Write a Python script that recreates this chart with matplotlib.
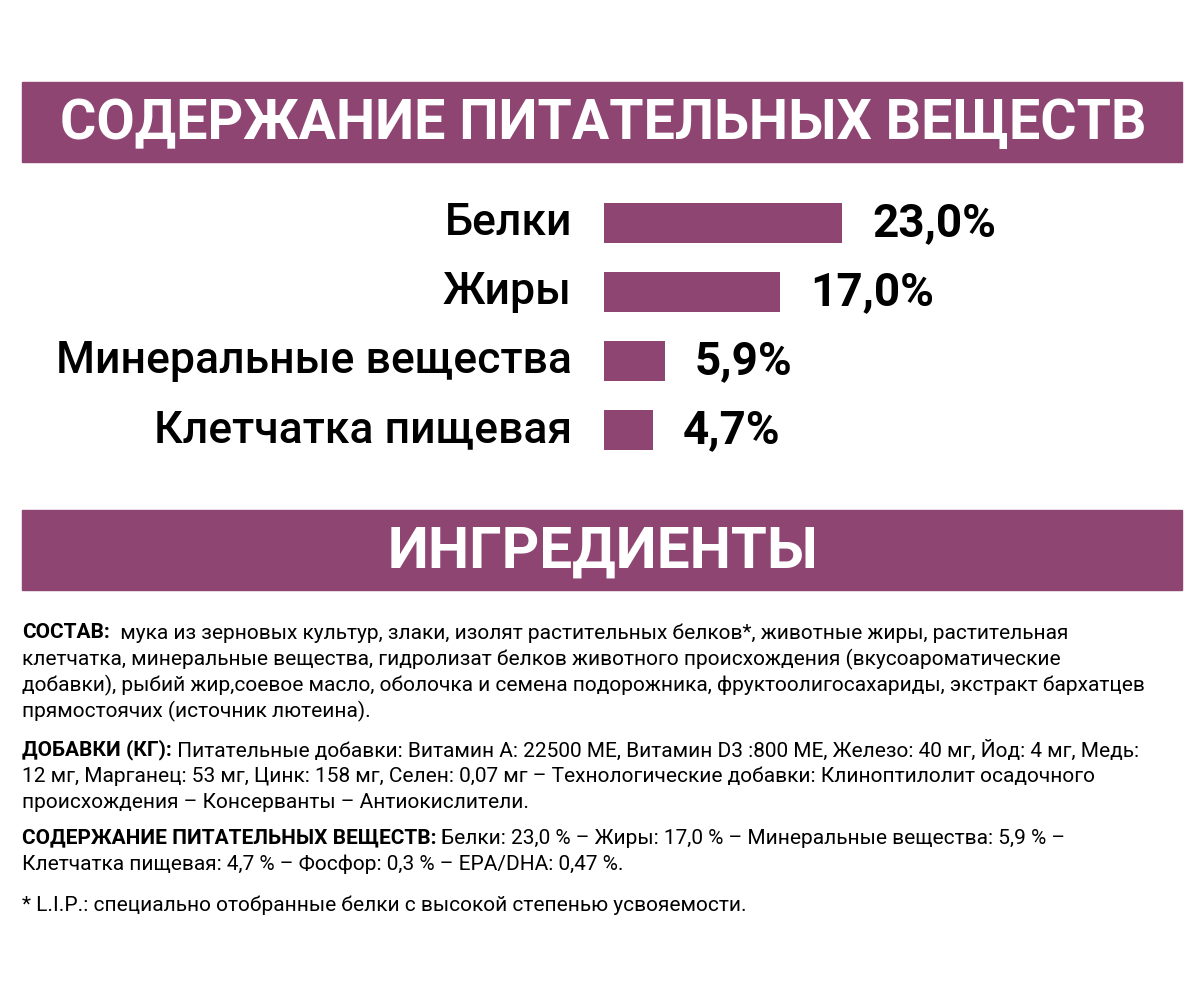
import matplotlib
matplotlib.use("Agg")
import matplotlib.pyplot as plt

categories = ["Белки", "Жиры", "Минеральные вещества", "Клетчатка пищевая"]
values = [23.0, 17.0, 5.9, 4.7]
value_labels = ["23,0%", "17,0%", "5,9%", "4,7%"]
title1 = "СОДЕРЖАНИЕ ПИТАТЕЛЬНЫХ ВЕЩЕСТВ"
title2 = "ИНГРЕДИЕНТЫ"
paragraphs = [
    ("СОСТАВ:", ["  мука из зерновых культур, злаки, изолят растительных белков*, животные жиры, растительная",
                 "клетчатка, минеральные вещества, гидролизат белков животного происхождения (вкусоароматические",
                 "добавки), рыбий жир,соевое масло, оболочка и семена подорожника, фруктоолигосахариды, экстракт бархатцев",
                 "прямостоячих (источник лютеина)."]),
    ("ДОБАВКИ (КГ):", [" Питательные добавки: Витамин А: 22500 МЕ, Витамин D3 :800 МЕ, Железо: 40 мг, Йод: 4 мг, Медь:",
                       "12 мг, Марганец: 53 мг, Цинк: 158 мг, Селен: 0,07 мг – Технологические добавки: Клиноптилолит осадочного",
                       "происхождения – Консерванты – Антиокислители."]),
    ("СОДЕРЖАНИЕ ПИТАТЕЛЬНЫХ ВЕЩЕСТВ:", [" Белки: 23,0 % – Жиры: 17,0 % – Минеральные вещества: 5,9 % –",
                                         "Клетчатка пищевая: 4,7 % – Фосфор: 0,3 % – EPA/DHA: 0,47 %."]),
    ("", ["* L.I.P.: специально отобранные белки с высокой степенью усвояемости."]),
]
para_y = [633, 750, 838, 905]

PURPLE = "#8e4572"
W, H = 1200, 1000
fig = plt.figure(figsize=(12, 10), dpi=100)
ax = fig.add_axes([0, 0, 1, 1])
ax.set_xlim(0, W); ax.set_ylim(H, 0); ax.axis("off")

FONT = ["Roboto", "DejaVu Sans"]
ax.add_patch(plt.Rectangle((22, 82), 1160, 80, color=PURPLE))
ax.add_patch(plt.Rectangle((22, 510), 1160, 80, color=PURPLE))
ax.text(603, 124, title1, color="white", fontsize=40, fontweight="bold",
        ha="center", va="center", family=FONT)
ax.text(603, 552, title2, color="white", fontsize=42, fontweight="bold",
        ha="center", va="center", family=FONT)

scale = 10.35
top, row = 188.5, 69
bx = fig.add_axes([604 / W, 1 - (top + 4 * row) / H, (W - 604) / W, 4 * row / H])
bx.set_xlim(0, (W - 604) / scale)
bx.set_ylim(3.5, -0.5)
bx.axis("off")
ypos = list(range(len(categories)))
bx.barh(ypos, values, height=0.59, color=PURPLE)
for y, v, lab, cat in zip(ypos, values, value_labels, categories):
    bx.text(v + 2.9, y, lab, fontsize=33, fontweight="bold", va="center", ha="left", family=FONT)
    ax.text(572, top + row * (y + 0.5), cat, fontsize=32, fontweight="medium",
            va="center", ha="right", family=FONT)

fig.canvas.draw()
r = fig.canvas.get_renderer()
fs = 15
lh = 26
for (head, lines), y0 in zip(paragraphs, para_y):
    x = 22
    if head:
        t = ax.text(22, y0, head, fontsize=fs, fontweight="bold", va="center", ha="left", family=FONT)
        bb = t.get_window_extent(r)
        x = 22 + bb.width
    for i, ln in enumerate(lines):
        ax.text(x if i == 0 else 22, y0 + i * lh, ln, fontsize=fs, va="center", ha="left", family=FONT)

fig.savefig("out.png", dpi=100, facecolor="white")
